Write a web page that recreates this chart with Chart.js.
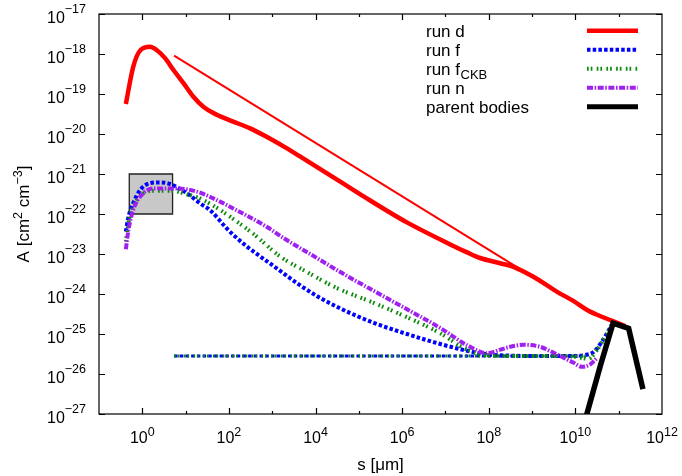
<!DOCTYPE html>
<html>
<head>
<meta charset="utf-8">
<script src="https://cdn.jsdelivr.net/npm/chart.js@4/dist/chart.umd.min.js"></script>
<style>
    html, body { margin: 0; background: #fff; }
    #wrap { width: 682px; height: 476px; position: relative; }
</style>
</head>
<body>
<div id="wrap"><canvas id="chart"></canvas></div>
<script>
// All curve values as log10(s [µm]) and log10(A [cm^2 cm^-3]).
const runDLogS = [-0.38, -0.21, -0.04, 0.18, 0.33, 0.53, 0.72, 0.95, 1.18, 1.41, 1.72, 2.10, 2.49, 2.87, 3.26, 3.64, 4.10, 4.57, 5.11, 6.11, 7.11, 7.50, 7.80, 8.26, 8.57, 9.03, 9.57, 9.96, 10.27, 10.50, 10.85, 11.15];
const runDLogA = [-19.25, -18.32, -17.90, -17.82, -17.90, -18.11, -18.40, -18.73, -19.07, -19.32, -19.52, -19.69, -19.86, -20.07, -20.31, -20.56, -20.87, -21.19, -21.56, -22.21, -22.76, -22.96, -23.10, -23.23, -23.32, -23.57, -23.94, -24.18, -24.40, -24.52, -24.67, -24.80];

// thin straight reference line next to run d
const slopeLogS = [0.733, 8.8];
const slopeLogA = [-18.04, -23.43];

const runFLogS = [-0.38, -0.32, -0.21, -0.05, 0.18, 0.41, 0.64, 1.03, 1.33, 1.56, 1.95, 2.10, 2.41, 2.57, 3.03, 3.64, 4.11, 4.57, 5.34, 6.11, 6.88, 7.50, 7.96, 8.50, 9.00, 9.50, 9.96, 10.25, 10.42, 10.65, 10.85];
const runFLogA = [-22.44, -22.07, -21.73, -21.40, -21.23, -21.21, -21.25, -21.48, -21.73, -21.90, -22.36, -22.52, -22.81, -22.94, -23.30, -23.78, -24.10, -24.36, -24.72, -25.00, -25.25, -25.42, -25.51, -25.54, -25.55, -25.55, -25.55, -25.52, -25.45, -25.13, -24.75];

const runFckbLogS = [-0.38, -0.30, -0.20, 0.00, 0.30, 0.70, 1.00, 1.33, 1.80, 2.26, 2.57, 3.18, 3.80, 4.49, 5.34, 6.11, 6.88, 7.42, 7.80, 8.50, 9.00, 9.50, 10.00, 10.30, 10.50, 10.70, 10.85];
const runFckbLogA = [-22.69, -22.10, -21.80, -21.50, -21.42, -21.42, -21.50, -21.61, -21.90, -22.25, -22.50, -23.06, -23.45, -23.85, -24.22, -24.58, -24.98, -25.35, -25.50, -25.55, -25.55, -25.55, -25.57, -25.62, -25.40, -25.05, -24.78];

// flat plateau shared by run f and run f_CKB
const plateauLogS = [0.733, 10.25];
const plateauLogA = [-25.55, -25.55];

const runNLogS = [-0.38, -0.32, -0.21, 0.02, 0.33, 0.80, 1.26, 1.64, 2.10, 2.87, 3.26, 4.03, 4.57, 5.34, 6.11, 6.88, 7.50, 7.96, 8.30, 8.57, 8.80, 9.19, 9.50, 9.96, 10.15, 10.34, 10.50];
const runNLogA = [-22.88, -22.40, -21.90, -21.48, -21.36, -21.36, -21.44, -21.61, -21.86, -22.32, -22.60, -23.10, -23.45, -23.92, -24.38, -24.85, -25.28, -25.48, -25.38, -25.30, -25.27, -25.32, -25.47, -25.72, -25.82, -25.76, -25.60];

const parentLogS = [10.20, 10.58, 10.87, 11.23, 11.56];
const parentLogA = [-27.25, -25.78, -24.73, -24.86, -26.38];

// grey box (linear values)
const boxS = [0.5, 0.5, 5, 5, 0.5];
const boxA = [1e-22, 1e-21, 1e-21, 1e-22, 1e-22];

const legendNames = ['run d', 'run f', 'run f', 'run n', 'parent bodies'];
const legendSubs = ['', '', 'CKB', '', ''];

const xLabelExps = [0, 2, 4, 6, 8, 10, 12];
const xTickExps = [0, 1, 2, 3, 4, 5, 6, 7, 8, 9, 10, 11];
const yTickExps = [-27, -26, -25, -24, -23, -22, -21, -20, -19, -18, -17];

const FONT = '"Liberation Sans", Arial, Helvetica, sans-serif';
const toPts = (ls, la) => ls.map((v, i) => ({ x: 10 ** v, y: 10 ** la[i] }));

const RED = '#ff0000', BLUE = '#0000ff', GREEN = '#0a8a0a', PURPLE = '#a020f0';

const line = (data, color, width, dash, order, extra = {}) => Object.assign({
    data, borderColor: color, backgroundColor: color, borderWidth: width, borderDash: dash,
    borderCapStyle: 'butt', showLine: true, pointRadius: 0, pointHoverRadius: 0,
    cubicInterpolationMode: 'monotone', fill: false, order, clip: 0,
}, extra);

const datasets = [
    line(toPts(runDLogS, runDLogA), RED, 4.5, [], 5, { legendRow: 0 }),
    line(toPts(slopeLogS, slopeLogA), RED, 2, [], 5, { cubicInterpolationMode: 'default', tension: 0 }),
    line(toPts(runFLogS, runFLogA), BLUE, 4, [3.5, 2.2], 4, { legendRow: 1 }),
    line(toPts(plateauLogS, plateauLogA), BLUE, 3, [3.5, 2.2], 4, { cubicInterpolationMode: 'default', tension: 0 }),
    line(toPts(runFckbLogS, runFckbLogA), GREEN, 4, [1.7, 2, 1.7, 4.3], 3, { legendRow: 2 }),
    line(toPts(plateauLogS, plateauLogA), GREEN, 3, [1.7, 2, 1.7, 4.3], 3, { cubicInterpolationMode: 'default', tension: 0 }),
    line(toPts(runNLogS, runNLogA), PURPLE, 4, [6, 1.6, 1.5, 1.6], 2, { legendRow: 3 }),
    line(toPts(parentLogS, parentLogA), '#000', 5.5, [], 1, { legendRow: 4, cubicInterpolationMode: 'default', tension: 0, borderJoinStyle: 'miter' }),
    line(boxS.map((s, i) => ({ x: s, y: boxA[i] })), '#222', 1.3, [], 10,
        { backgroundColor: '#c8c8c8', fill: 'shape', cubicInterpolationMode: 'default', tension: 0, borderJoinStyle: 'miter' }),
];

// frame with inward ticks on all four sides (gnuplot style)
const framePlugin = {
    id: 'frame',
    afterDatasetsDraw(chart) {
        const { ctx, chartArea: a, scales: { x, y } } = chart;
        ctx.save();
        ctx.strokeStyle = '#000';
        ctx.lineWidth = 1.2;
        ctx.beginPath();
        for (const e of xTickExps) {
            const px = Math.round(x.getPixelForValue(10 ** e)) + 0.5;
            const len = e % 2 === 0 ? 6 : 3;
            ctx.moveTo(px, a.bottom); ctx.lineTo(px, a.bottom - len);
            ctx.moveTo(px, a.top); ctx.lineTo(px, a.top + len);
        }
        for (const e of yTickExps) {
            const py = Math.round(y.getPixelForValue(10 ** e)) + 0.5;
            ctx.moveTo(a.left, py); ctx.lineTo(a.left + 6, py);
            ctx.moveTo(a.right, py); ctx.lineTo(a.right - 6, py);
        }
        ctx.stroke();
        ctx.strokeRect(a.left, a.top, a.right - a.left, a.bottom - a.top);
        ctx.restore();
    },
};

const labelPlugin = {
    id: 'labels',
    afterDraw(chart) {
        const { ctx, chartArea: a, scales: { x, y } } = chart;
        const base = `16px ${FONT}`;
        const sup = `12.5px ${FONT}`;
        ctx.save();
        ctx.fillStyle = '#000';
        ctx.textBaseline = 'alphabetic';
        ctx.textAlign = 'left';

        // y tick labels: 10^n, right-aligned
        for (const e of yTickExps) {
            const py = y.getPixelForValue(10 ** e);
            const exp = '\u2212' + Math.abs(e);
            ctx.font = sup;
            const we = ctx.measureText(exp).width;
            ctx.font = base;
            const wb = ctx.measureText('10').width;
            const right = 86;
            ctx.fillText('10', right - we - wb, py + 8.5);
            ctx.font = sup;
            ctx.fillText(exp, right - we, py - 1.5);
        }

        // x tick labels
        for (const e of xLabelExps) {
            const px = x.getPixelForValue(10 ** e);
            const exp = String(e);
            ctx.font = sup;
            const we = ctx.measureText(exp).width;
            ctx.font = base;
            const wb = ctx.measureText('10').width;
            const left = px - (wb + we) / 2;
            ctx.fillText('10', left, a.bottom + 29);
            ctx.font = sup;
            ctx.fillText(exp, left + wb, a.bottom + 21.5);
        }

        // x axis title
        ctx.font = `17px ${FONT}`;
        ctx.textAlign = 'center';
        ctx.fillText('s [\u03bcm]', (a.left + a.right) / 2, 470);

        // y axis title, rotated, with superscripts
        const parts = [['A [cm', false], ['2', true], [' cm', false], ['\u22123', true], [']', false]];
        let total = 0;
        for (const [t, s] of parts) {
            ctx.font = s ? `12.5px ${FONT}` : `17px ${FONT}`;
            total += ctx.measureText(t).width;
        }
        ctx.translate(29, (a.top + a.bottom) / 2);
        ctx.rotate(-Math.PI / 2);
        ctx.textAlign = 'left';
        let cx = -total / 2;
        for (const [t, s] of parts) {
            ctx.font = s ? `12.5px ${FONT}` : `17px ${FONT}`;
            ctx.fillText(t, cx, s ? -7 : 0);
            cx += ctx.measureText(t).width;
        }
        ctx.restore();

        // legend: text on the left, line sample on the right
        ctx.save();
        ctx.textBaseline = 'alphabetic';
        ctx.textAlign = 'left';
        ctx.fillStyle = '#000';
        chart.data.datasets.forEach((ds) => {
            if (ds.legendRow === undefined) return;
            const r = ds.legendRow;
            const rowY = 30.7 + r * 19;
            ctx.font = `17px ${FONT}`;
            ctx.fillText(legendNames[r], 426, rowY + 6);
            if (legendSubs[r]) {
                const w = ctx.measureText(legendNames[r]).width;
                ctx.font = `13px ${FONT}`;
                ctx.fillText(legendSubs[r], 426 + w + 0.5, rowY + 10);
            }
            ctx.strokeStyle = ds.borderColor;
            ctx.lineWidth = Math.min(ds.borderWidth, 5);
            ctx.setLineDash(ds.borderDash || []);
            ctx.lineCap = 'butt';
            ctx.beginPath();
            ctx.moveTo(587, rowY);
            ctx.lineTo(638, rowY);
            ctx.stroke();
        });
        ctx.restore();
    },
};

new Chart(document.getElementById('chart'), {
    type: 'scatter',
    data: { datasets },
    options: {
        responsive: true,
        maintainAspectRatio: false,
        animation: false,
        layout: { padding: { left: 99, right: 20, top: 14, bottom: 62 } },
        plugins: { legend: { display: false }, tooltip: { enabled: false } },
        scales: {
            x: { type: 'logarithmic', min: 0.1, max: 1e12, display: false },
            y: { type: 'logarithmic', min: 1e-27, max: 1e-17, display: false },
        },
    },
    plugins: [framePlugin, labelPlugin],
});
</script>
</body>
</html>
